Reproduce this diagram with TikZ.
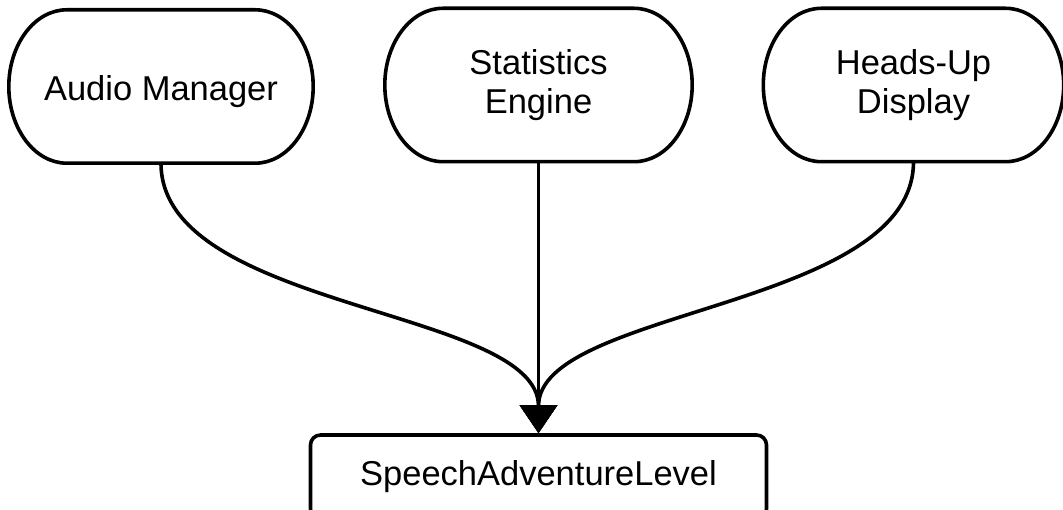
\documentclass[tikz,border=0pt]{standalone}
\usepackage{fontspec}
\setmainfont{Liberation Sans}
\usetikzlibrary{arrows.meta}
\newcommand\drawstadium[1]{%
  \draw[boxline] ([xshift=58pt]#1.north west) -- ([xshift=-58pt]#1.north east)
    .. controls +(32pt,0pt) and +(0pt,42.25pt) .. (#1.east)
    .. controls +(0pt,-42.25pt) and +(32pt,0pt) .. ([xshift=-58pt]#1.south east)
    -- ([xshift=58pt]#1.south west)
    .. controls +(-32pt,0pt) and +(0pt,-42.25pt) .. (#1.west)
    .. controls +(0pt,42.25pt) and +(-32pt,0pt) .. ([xshift=58pt]#1.north west) -- cycle;}
\begin{document}
\begin{tikzpicture}[x=1pt,y=-1pt,
  boxline/.style={draw=black,line width=3.6pt,line join=round},
  topbox/.style={minimum height=153pt,align=center,font=\fontsize{34.5}{39}\selectfont,inner sep=0pt},
  levelbox/.style={draw=black,line width=3.6pt,rounded corners=10pt,minimum height=84pt,minimum width=456pt,font=\fontsize{34.5}{39}\selectfont,inner sep=0pt},
  conn/.style={draw=black,line width=3.6pt,-{Triangle[width=37pt,length=28pt]}}]
\useasboundingbox (0,0) rectangle (1063,510);
\node[topbox,minimum width=304pt,text depth=0pt] (am) at (161,86.5) {\raisebox{-4pt}{Audio Manager}};
\node[topbox,minimum width=307pt] (st) at (538.5,85) {Statistics\\Engine};
\node[topbox,minimum width=300pt] (hud) at (913.5,85) {Heads-Up\\Display};
\drawstadium{am}
\drawstadium{st}
\drawstadium{hud}
\node[levelbox] (sal) at (538.5,477) {\raisebox{-3pt}{SpeechAdventureLevel}};
\draw[conn] (am.south) .. controls +(0,147) and +(0,-125) .. (sal.north);
\draw[conn] (hud.south) .. controls +(0,147) and +(0,-125) .. (sal.north);
\draw[conn] (st.south) -- (sal.north);
\end{tikzpicture}
\end{document}
